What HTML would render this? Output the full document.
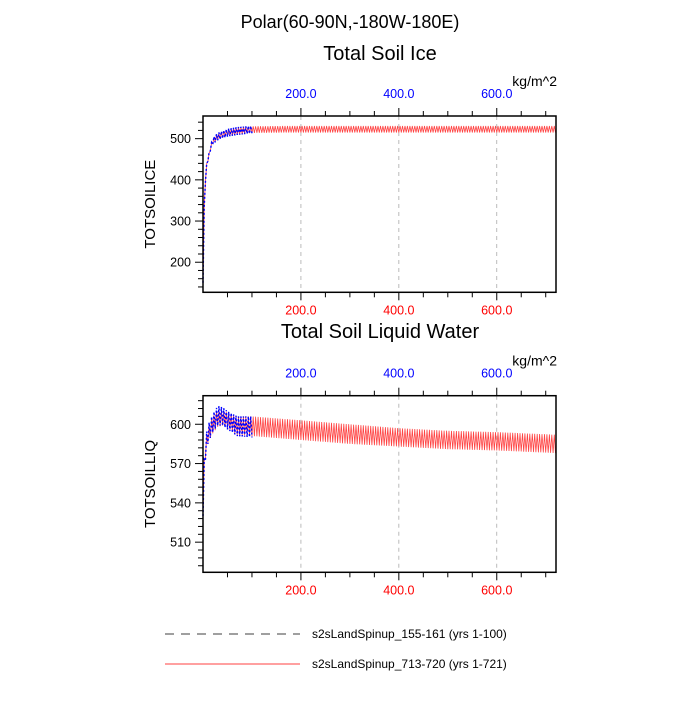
<!DOCTYPE html>
<html><head><meta charset="utf-8"><style>
body{margin:0;background:#fff;}
svg text{font-family:"Liberation Sans",sans-serif;}
</style></head><body>
<svg id="c" width="700" height="700" xmlns="http://www.w3.org/2000/svg">
<text x="350" y="28" font-size="18" text-anchor="middle">Polar(60-90N,-180W-180E)</text>
<text x="380" y="60" font-size="20" text-anchor="middle">Total Soil Ice</text>
<text x="380" y="338" font-size="20" text-anchor="middle">Total Soil Liquid Water</text>
<g id="g"></g>
<line x1="165" y1="634" x2="300" y2="634" stroke="#000" stroke-width="0.8" stroke-dasharray="9,7"/>
<text x="312" y="638" font-size="12">s2sLandSpinup_155-161 (yrs 1-100)</text>
<line x1="165" y1="664" x2="300" y2="664" stroke="#f00" stroke-width="0.8"/>
<text x="312" y="668" font-size="12">s2sLandSpinup_713-720 (yrs 1-721)</text>
</svg>
<script>
const iceYears=[0,2,6,15,20,30,50,70,100,200,300,400,500,600,721];
const iceRedHi=[150,320,432,478,500,512,522,527,530,531,531,531,531,531,531];
const iceRedLo=[150,300,425,470,488,498,506,510,514,515,515,515,515,515,515];
const iceBlueYears=[0,2,6,15,20,30,50,70,100];
const iceBlueHi=[150,320,432,480,502,514,524,528,531];
const iceBlueLo=[150,300,425,470,486,496,505,509,513];
const liqYears=[0,2,5,10,20,30,40,50,70,100,200,300,400,500,600,721];
const liqRedHi=[530,570,587,597,606,611,611,609,606,606,603,600,597,595,594,592];
const liqRedLo=[530,560,574,586,593,598,599,597,592,591,588,585,583,581,580,578];
const liqBlueYears=[0,2,5,10,20,30,40,50,70,100];
const liqBlueHi=[530,570,590,599,608,614,613,610,606,606];
const liqBlueLo=[530,556,572,585,594,599,599,596,591,590];
const xTicks=[200,400,600];
const iceYTicks=[200,300,400,500];
const liqYTicks=[510,540,570,600];
const NS="http://www.w3.org/2000/svg";
const g=document.getElementById('g');
function mk(t,a){const e=document.createElementNS(NS,t);for(const k in a)e.setAttribute(k,a[k]);g.appendChild(e);return e;}
function interp(xs,ys,x){for(let i=1;i<xs.length;i++){if(x<=xs[i]){const f=(x-xs[i-1])/(xs[i]-xs[i-1]);return ys[i-1]+f*(ys[i]-ys[i-1]);}}return ys[ys.length-1];}
function zig(xs,hi,lo,x0,x1,period,xs_,ys_){let d='';let k=0;for(let x=x0;x<=x1;x+=period/2,k++){const v=(k%2?interp(xs,hi,x):interp(xs,lo,x));d+=(d?'L':'M')+xs_(x).toFixed(1)+','+ys_(v).toFixed(1);}return d;}
function panel(name,top,bot,ymin,ymax,yminor,yTicks,yTitle,xs,hi,lo,bx,bhi,blo){
  const L=203,R=556;
  const X=v=>L+(v-0)/(721-0)*(R-L);
  const Y=v=>bot-(v-ymin)/(ymax-ymin)*(bot-top);
  let e;
  for(const t of xTicks){
    e=mk('line',{x1:X(t),x2:X(t),y1:top,y2:bot,stroke:'#aaa','stroke-dasharray':'4,4','stroke-width':0.8});
    
    
    e=mk('text',{x:X(t),y:top-18,'font-size':12.5,fill:'#00f','text-anchor':'middle'});e.textContent=t.toFixed(1);
    
    
    e=mk('text',{x:X(t),y:bot+22,'font-size':12.5,fill:'#f00','text-anchor':'middle'});e.textContent=t.toFixed(1);
    
    
  }
  for(let t=50;t<721;t+=50){const big=t%200==0;
    mk('line',{x1:X(t),x2:X(t),y1:top,y2:top-(big?8:5),stroke:'#000'});
    mk('line',{x1:X(t),x2:X(t),y1:bot,y2:bot+(big?8:5),stroke:'#000'});}
  for(let v=Math.ceil(ymin/yminor)*yminor;v<=ymax;v+=yminor){const big=yTicks.includes(v);
    mk('line',{x1:L,x2:L-(big?8:5),y1:Y(v),y2:Y(v),stroke:'#000'});}
  for(const t of yTicks){e=mk('text',{x:L-12,y:Y(t)+4.5,'font-size':12.5,'text-anchor':'end'});e.textContent=t;
    
    }
  e=mk('text',{x:0,y:0,'font-size':15,'text-anchor':'middle',transform:`translate(155,${(top+bot)/2}) rotate(-90)`});e.textContent=yTitle;
  
  
  e=mk('text',{x:557,y:top-30,'font-size':14,'text-anchor':'end'});e.textContent='kg/m^2';
  
  
  e=mk('path',{d:zig(xs,hi,lo,0,721,5,X,Y),fill:'none',stroke:'#f44','stroke-width':0.8});
  
  
  e=mk('path',{d:zig(bx,bhi,blo,0,100,5,X,Y),fill:'none',stroke:'#00f','stroke-width':1.4,'stroke-dasharray':'2,2'});
  
  
  e=mk('rect',{x:L,y:top,width:R-L,height:bot-top,fill:'none',stroke:'#000','stroke-width':1.5});
  
  
}
panel('ice',116,292.3,127,555,20,iceYTicks,'TOTSOILICE',iceYears,iceRedHi,iceRedLo,iceBlueYears,iceBlueHi,iceBlueLo);
panel('liq',395.7,572.3,487,621.8,6,liqYTicks,'TOTSOILLIQ',liqYears,liqRedHi,liqRedLo,liqBlueYears,liqBlueHi,liqBlueLo);
</script>
</body></html>
